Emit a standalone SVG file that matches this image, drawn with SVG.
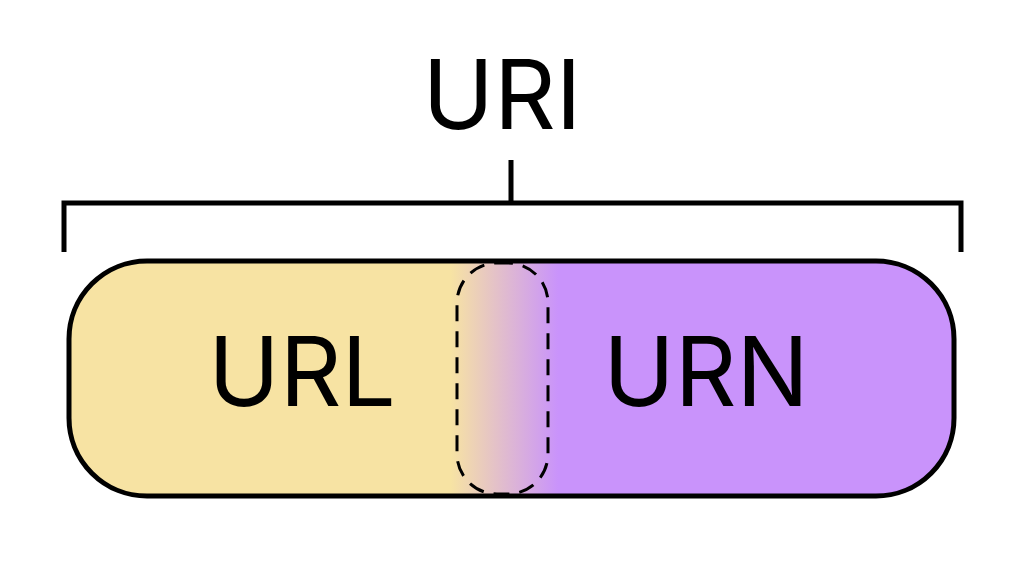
<svg xmlns="http://www.w3.org/2000/svg" width="1024" height="573" viewBox="0 0 1024 573">
<defs>
<linearGradient id="g" x1="0" y1="0" x2="1024" y2="0" gradientUnits="userSpaceOnUse">
<stop offset="0.44" stop-color="#f7e3a3"/>
<stop offset="0.545" stop-color="#c993fb"/>
</linearGradient>
<style>
text{font-family:Inter,"Liberation Sans",sans-serif;fill:#000;text-anchor:middle}
.l{stroke:#000;stroke-width:5;fill:none}
</style>
</defs>
<rect width="1024" height="573" fill="#fff"/>
<g id="connectors">
<path class="l" d="M64 252V203H961V252M511 203V160"/>
</g>
<g id="uri"><text x="502" y="129" font-size="96">URI</text></g>
<g id="bar">
<rect x="69" y="261" width="885" height="235" rx="78" class="l" style="fill:url(#g)"/>
<rect x="457" y="263" width="91" height="231" rx="40" fill="none" stroke="#000" stroke-width="3" stroke-dasharray="16 10"/>
</g>
<g id="url"><text x="302" y="406" font-size="96">URL</text></g>
<g id="urn"><text x="706" y="406" font-size="96">URN</text></g>
</svg>
